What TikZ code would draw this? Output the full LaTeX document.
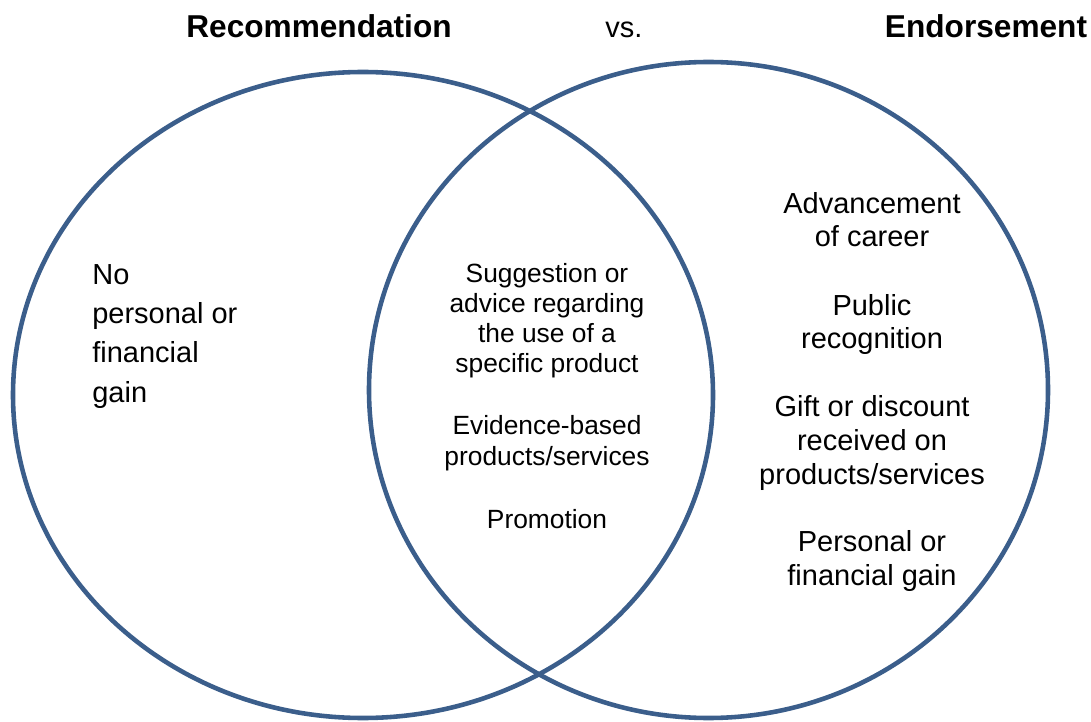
\documentclass[tikz,border=0pt]{standalone}
\usepackage{fontspec}
\setmainfont{Liberation Sans}
\usepackage{tikz}
\usetikzlibrary{positioning}
\usepackage{xcolor}
\definecolor{vennblue}{RGB}{59,94,139}

\begin{document}
\begin{tikzpicture}[
    x=0.02cm, y=-0.02cm,
    setline/.style={draw=vennblue, line width=2.6pt},
    head/.style={font=\fontsize{18}{21}\selectfont\bfseries, anchor=base, inner sep=0pt},
    vs/.style={font=\fontsize{16.5}{19}\selectfont, anchor=base, inner sep=0pt},
    side/.style={font=\fontsize{16.5}{19.1}\selectfont, align=center, anchor=base, inner sep=0pt},
    mid/.style={font=\fontsize{15}{17.1}\selectfont, align=center, anchor=base, inner sep=0pt},
    own/.style={font=\fontsize{16.5}{22.2}\selectfont, align=left, anchor=base west, inner sep=0pt}
]
    \useasboundingbox (0,0) rectangle (1091,722);

    % the two sets
    \draw[setline] (363,395) ellipse [x radius=350, y radius=323];
    \draw[setline] (708.5,390) ellipse [x radius=339.5, y radius=328];

    % headings
    \node[head] (rec) at (319,38) {Recommendation};
    \node[vs] (versus) at (624,38) {vs.};
    \node[head] (endo) at (986,38) {Endorsement};

    % recommendation only (placed by the last line)
    \node[own] (nogain) at (92,402) {No\\personal or\\financial\\gain};

    % overlap
    \node[mid] (advice) at (547,373) {Suggestion or\\advice regarding\\the use of a\\specific product};
    \node[mid] (evidence) at (547,465) {Evidence-based\\products/services};
    \node[mid] (promo) at (547,528) {Promotion};

    % endorsement only
    \node[side] (career) at (872,247) {Advancement\\of career};
    \node[side] (public) at (872,349) {Public\\recognition};
    \node[side] (gift) at (872,484) {Gift or discount\\received on\\products/services};
    \node[side] (gain) at (872,585) {Personal or\\financial gain};
\end{tikzpicture}
\end{document}
